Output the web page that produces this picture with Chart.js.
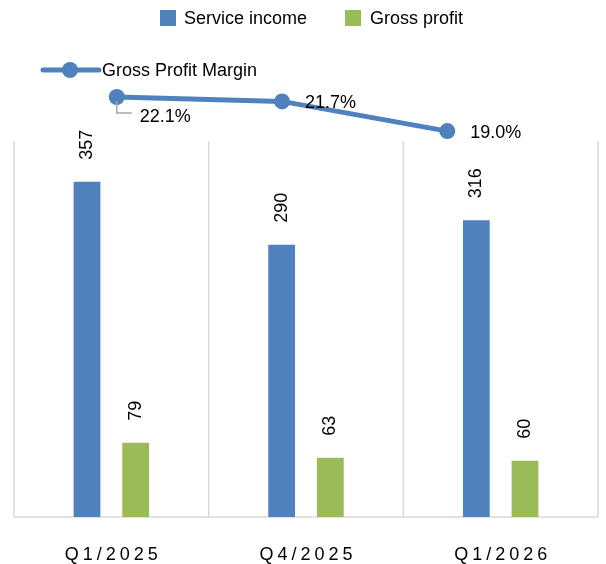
<!DOCTYPE html>
<html><head><meta charset="utf-8">
<script src="https://cdn.jsdelivr.net/npm/chart.js@4/dist/chart.umd.min.js"></script>
<style>html,body{margin:0;padding:0;background:#fff}#wrap{width:606px;height:564px}</style>
</head><body><div id="wrap"><canvas id="c" width="606" height="564"></canvas></div>
<script>
const categories = ['Q1/2025', 'Q4/2025', 'Q1/2026'];
const serviceIncome = [357, 290, 316];
const grossProfit = [79, 63, 60];
const grossProfitMargin = [22.1, 21.7, 19.0];
const seriesNames = ['Service income', 'Gross profit', 'Gross Profit Margin'];

const BLUE = '#4f81bd', GREEN = '#9bbb59', GRID = '#d9d9d9';
const FONT = '18px "Liberation Sans", Arial, sans-serif';
const GRID_TOP_VALUE = 400;

const drawPlugin = {
  id: 'drawPlugin',
  beforeDatasetsDraw(chart) {
    const ctx = chart.ctx, a = chart.chartArea, x = chart.scales.x, y = chart.scales.y;
    const top = y.getPixelForValue(GRID_TOP_VALUE);
    ctx.save();
    ctx.strokeStyle = GRID; ctx.lineWidth = 1.5;
    const xs = [a.left];
    for (let i = 0; i < categories.length - 1; i++) xs.push((x.getPixelForValue(i) + x.getPixelForValue(i + 1)) / 2);
    xs.push(a.right);
    xs.forEach(px => { ctx.beginPath(); ctx.moveTo(px, top); ctx.lineTo(px, a.bottom); ctx.stroke(); });
    ctx.beginPath(); ctx.moveTo(a.left, a.bottom); ctx.lineTo(a.right, a.bottom); ctx.stroke();
    ctx.restore();
  },
  afterDraw(chart) {
    const ctx = chart.ctx, x = chart.scales.x;
    ctx.save();
    ctx.font = FONT; ctx.fillStyle = '#000'; ctx.textBaseline = 'alphabetic';
    // rotated bar value labels
    [1, 2].forEach(di => {
      const meta = chart.getDatasetMeta(di);
      meta.data.forEach((bar, i) => {
        ctx.save();
        ctx.translate(bar.x + 5, bar.y - 22);
        ctx.rotate(-Math.PI / 2);
        ctx.textAlign = 'left';
        ctx.fillText(String(chart.data.datasets[di].data[i]), 0, 0);
        ctx.restore();
      });
    });
    // line value labels
    const lm = chart.getDatasetMeta(0);
    lm.data.forEach((p, i) => {
      const txt = grossProfitMargin[i].toFixed(1) + '%';
      ctx.textAlign = 'left';
      if (i === 0) {
        ctx.save();
        ctx.strokeStyle = '#a6a6a6'; ctx.lineWidth = 1.5;
        ctx.beginPath(); ctx.moveTo(p.x, p.y + 4); ctx.lineTo(p.x, p.y + 16); ctx.lineTo(p.x + 15, p.y + 16); ctx.stroke();
        ctx.restore();
        ctx.fillText(txt, p.x + 23, p.y + 25);
      } else {
        ctx.fillText(txt, p.x + 23, p.y + 6.5);
      }
    });
    // category labels
    ctx.save();
    ctx.letterSpacing = '4px';
    ctx.textAlign = 'center';
    categories.forEach((c, i) => ctx.fillText(c, x.getPixelForValue(i) + 2, 560));
    ctx.restore();
    // legends
    ctx.fillStyle = BLUE; ctx.fillRect(160, 10, 16, 16);
    ctx.fillStyle = GREEN; ctx.fillRect(345, 10, 16, 16);
    ctx.fillStyle = '#000'; ctx.textAlign = 'left';
    ctx.fillText(seriesNames[0], 184, 24);
    ctx.fillText(seriesNames[1], 370, 24);
    ctx.strokeStyle = BLUE; ctx.lineWidth = 5; ctx.lineCap = 'round';
    ctx.beginPath(); ctx.moveTo(43, 70); ctx.lineTo(99, 70); ctx.stroke();
    ctx.fillStyle = BLUE; ctx.beginPath(); ctx.arc(70, 70, 8, 0, Math.PI * 2); ctx.fill();
    ctx.fillStyle = '#000';
    ctx.fillText(seriesNames[2], 102, 76);
    ctx.restore();
  }
};

new Chart(document.getElementById('c'), {
  type: 'bar',
  data: {
    labels: categories,
    datasets: [
      { type: 'line', label: seriesNames[2], data: grossProfitMargin.map((v, i) => ({ x: i, y: v })),
        xAxisID: 'x2', yAxisID: 'y2', order: 0, borderColor: BLUE, backgroundColor: BLUE, borderWidth: 5,
        pointRadius: 8, pointHoverRadius: 8, pointBackgroundColor: BLUE, pointBorderColor: BLUE, pointBorderWidth: 0,
        tension: 0, clip: false },
      { label: seriesNames[0], data: serviceIncome, backgroundColor: BLUE, xAxisID: 'x', yAxisID: 'y', order: 1,
        stack: 's1', categoryPercentage: 1.0, barPercentage: 0.55 },
      { label: seriesNames[1], data: grossProfit, backgroundColor: GREEN, xAxisID: 'x', yAxisID: 'y', order: 1,
        stack: 's2', categoryPercentage: 1.0, barPercentage: 0.55 }
    ]
  },
  options: {
    responsive: false, animation: false, devicePixelRatio: 1,
    layout: { padding: { left: 14, top: 85, right: 6, bottom: 47 } },
    plugins: { legend: { display: false }, tooltip: { enabled: false } },
    scales: {
      x: { type: 'category', display: false, offset: true },
      y: { display: false, min: 0, max: 460 },
      x2: { type: 'linear', display: false, offset: false, grid: { offset: false }, min: -0.622, max: 2.912 },
      y2: { type: 'linear', display: false, min: -16.08, max: 23.19 }
    }
  },
  plugins: [drawPlugin]
});
</script></body></html>
